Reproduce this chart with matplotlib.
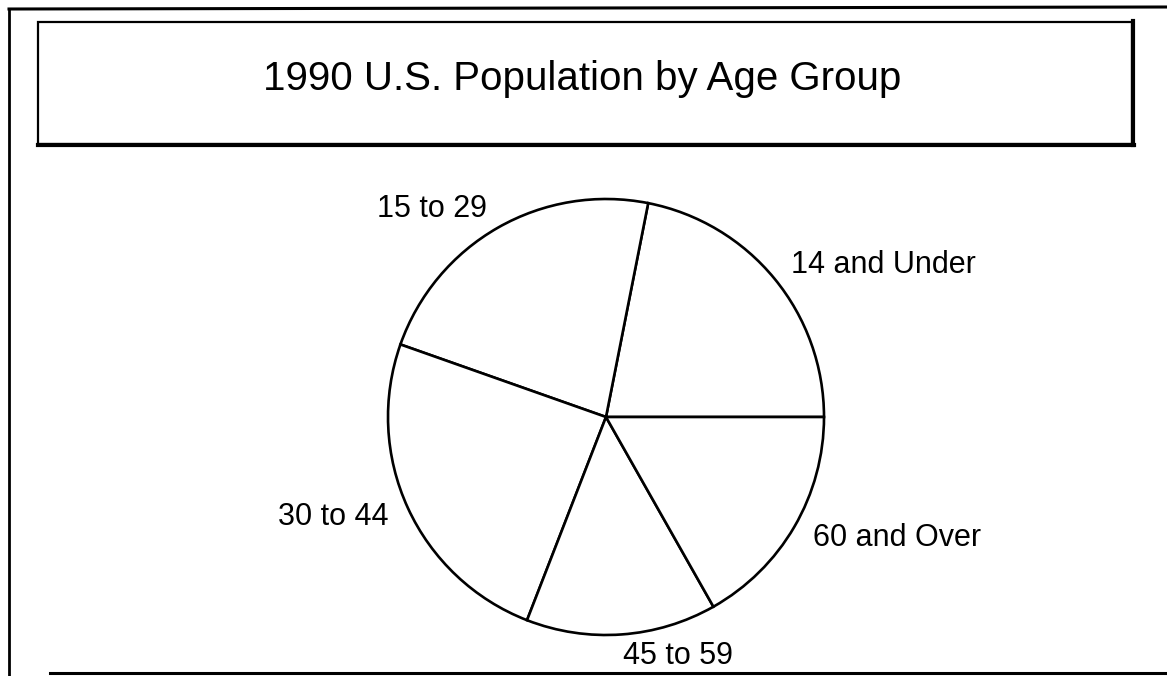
import matplotlib
matplotlib.use("Agg")
import matplotlib.pyplot as plt
from matplotlib.patches import Rectangle
from matplotlib.lines import Line2D

# Data (percent of population)
categories = ["14 and Under", "15 to 29", "30 to 44", "45 to 59", "60 and Over"]
shares = [21.9, 22.7, 24.5, 14.1, 16.8]
title = "1990 U.S. Population by Age Group"

W, H = 1167, 676
DPI = 100
plt.rcParams["font.family"] = ["Liberation Sans", "DejaVu Sans"]

fig = plt.figure(figsize=(W / DPI, H / DPI), dpi=DPI)
fig.patch.set_facecolor("white")


def fx(px):
    return px / W


def fy(py):
    return 1 - py / H


# Outer frame lines (left, top, bottom)
fig.add_artist(Line2D([fx(9), fx(9)], [fy(10), fy(676)], color="black", lw=2.0))
fig.add_artist(Line2D([fx(9), fx(1167)], [fy(9), fy(7)], color="black", lw=2.2))
fig.add_artist(Line2D([fx(50), fx(1167)], [fy(673), fy(673)], color="black", lw=2.2))

# Title box
x0, y0, x1, y1 = 38, 22, 1132, 144
fig.add_artist(Rectangle((fx(x0), fy(y1)), fx(x1) - fx(x0), fy(y0) - fy(y1),
                         fill=False, edgecolor="black", lw=1.6))
# heavier right and bottom edges (shadow)
fig.add_artist(Line2D([fx(x1 + 1), fx(x1 + 1)], [fy(y0 - 1), fy(y1 + 1)], color="black", lw=3.0))
fig.add_artist(Line2D([fx(x0), fx(x1 + 2)], [fy(y1 + 1), fy(y1 + 1)], color="black", lw=3.0))

fig.text(fx(582), fy(90), title, ha="center", va="baseline", fontsize=29, color="black")

# Pie axes: center (606, 417) px, radius 218 px
cx, cy, r = 606, 417, 218
lim = 1.25
size = 2 * lim * r
ax = fig.add_axes([fx(cx - size / 2), fy(cy + size / 2), size / W, size / H])
ax.pie(shares, labels=categories, startangle=0, counterclock=True,
       labeldistance=1.1,
       colors=["white"] * len(shares),
       wedgeprops=dict(edgecolor="black", linewidth=1.9),
       textprops=dict(fontsize=22, color="black"))
ax.set_xlim(-lim, lim)
ax.set_ylim(-lim, lim)
ax.set_aspect("equal")
ax.axis("off")

fig.savefig("out.png", dpi=DPI, facecolor="white")
